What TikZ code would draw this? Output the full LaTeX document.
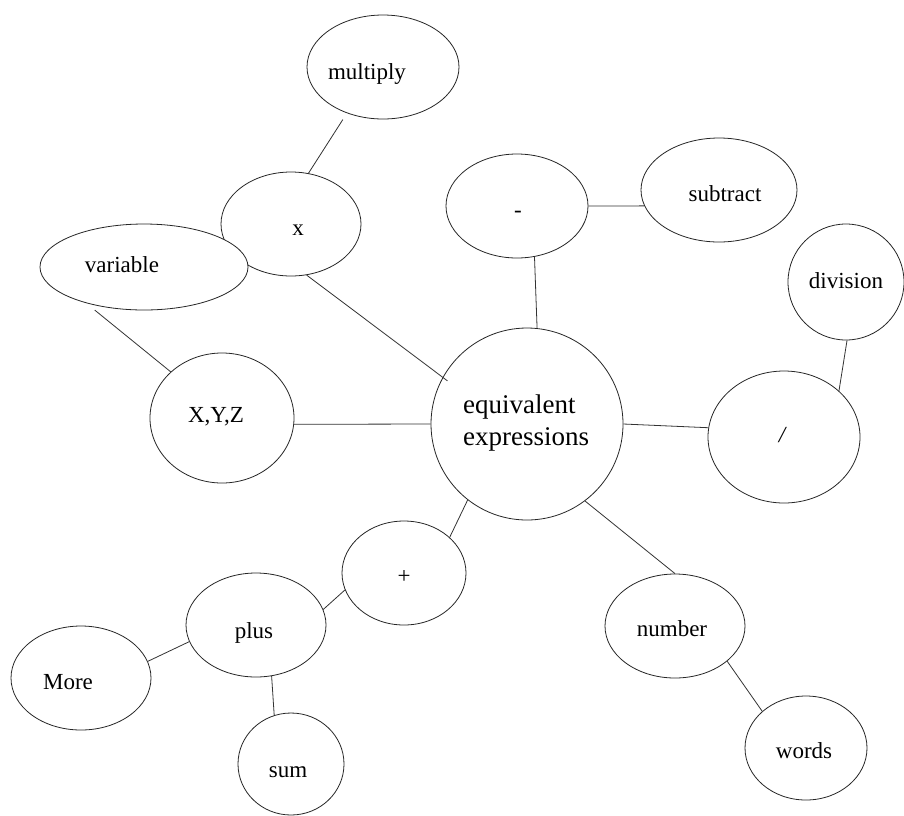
\documentclass[tikz,border=0pt]{standalone}
\usepackage{fontspec}
\setmainfont{Liberation Serif}
\usetikzlibrary{shapes.geometric}
\begin{document}
\begin{tikzpicture}[x=1pt,y=-1pt,
  bub/.style={draw=black!85, fill=white, ellipse, inner sep=0pt, line width=0.8pt},
  lbl/.style={inner sep=0pt, font=\fontsize{23}{27}\selectfont, anchor=base},
  con/.style={draw=black!80, line width=0.8pt}]
\useasboundingbox[fill=white] (0,0) rectangle (904,815);
% shapes
\node[bub, minimum width=152pt, minimum height=104pt] (mul) at (383,67) {};
\node[bub, minimum width=140pt, minimum height=104pt] (tim) at (291,224) {};
\node[bub, minimum width=208pt, minimum height=86pt] (var) at (144,267) {};
\node[bub, minimum width=144pt, minimum height=130pt] (xyz) at (222,418) {};
\node[bub, minimum width=142pt, minimum height=104pt] (mns) at (517,206) {};
\node[bub, minimum width=156pt, minimum height=104pt] (sub) at (719,190) {};
\node[bub, minimum width=116pt, minimum height=116pt] (dvs) at (846,282) {};
\node[bub, minimum width=152pt, minimum height=132pt] (sls) at (784,437) {};
\node[bub, minimum width=192pt, minimum height=192pt] (ctr) at (527,424) {};
\node[bub, minimum width=124pt, minimum height=104pt] (pls) at (404,573) {};
\node[bub, minimum width=140pt, minimum height=104pt] (plw) at (256,625) {};
\node[bub, minimum width=140pt, minimum height=104pt] (mor) at (81,678) {};
\node[bub, minimum width=106pt, minimum height=102pt] (sum) at (291,764) {};
\node[bub, minimum width=140pt, minimum height=104pt] (num) at (675,626) {};
\node[bub, minimum width=122pt, minimum height=104pt] (wrd) at (806,748) {};
% texts
\node[lbl] (mulT) at (367,79) {multiply};
\node[lbl] (timT) at (298,235) {x};
\node[lbl] (varT) at (122,272) {variable};
\node[lbl] (xyzT) at (216,422) {X,Y,Z};
\node[lbl] (mnsT) at (518,217) {-};
\node[lbl] (subT) at (725,201) {subtract};
\node[lbl] (dvsT) at (846,288) {division};
\node[lbl] (slsT) at (783,442) {\textit{/}};
\node[lbl, font=\fontsize{27}{32}\selectfont, align=left, anchor=west] (ctrT) at (463,423) {equivalent\\expressions};
\node[lbl] (plsT) at (404,583) {+};
\node[lbl] (plwT) at (254,638) {plus};
\node[lbl] (morT) at (68,689) {More};
\node[lbl] (sumT) at (288,777) {sum};
\node[lbl] (numT) at (672,636) {number};
\node[lbl] (wrdT) at (804,758) {words};
% connectors
\draw[con, shorten <=7.5pt] (mul.232.4) -- (tim.71.9);
\draw[con, shorten <=11pt] (var.212.1) -- (xyz.138);
\draw[con, shorten >=-6pt] (tim.287.8) -- (ctr.151.4);
\draw[con] (xyz.355.2) -- (ctr.180);
\draw[con] (mns.289.7) -- (ctr.84.6);
\draw[con] (mns.-0.8) -- (sub.192.3);
\draw[con] (dvs.271) -- (sls.40.4);
\draw[con] (ctr.-0.6) -- (sls.173.2);
\draw[con] (ctr.307.2) -- (num.90);
\draw[con] (num.326.6) -- (wrd.140.6);
\draw[con] (ctr.232.2) -- (pls.38.7);
\draw[con] (plw.13.7) -- (pls.196.4);
\draw[con] (mor.14.2) -- (plw.194.6);
\draw[con] (plw.287.8) -- (sum.109.4);
\end{tikzpicture}
\end{document}
